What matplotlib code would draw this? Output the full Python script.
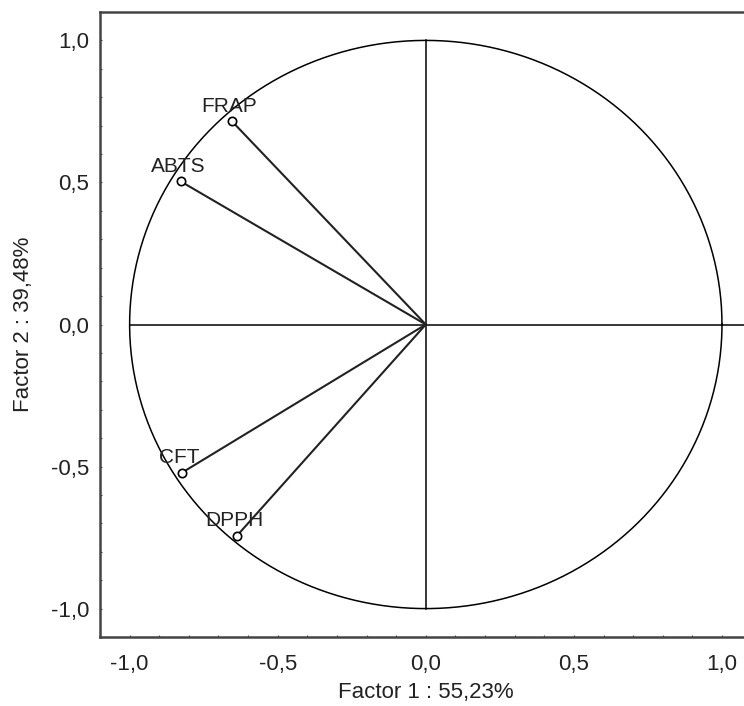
import numpy as np
import matplotlib
matplotlib.use('Agg')
import matplotlib.pyplot as plt
from matplotlib.ticker import MultipleLocator, FuncFormatter

# loadings on the first two factors
variables = ['FRAP', 'ABTS', 'CFT', 'DPPH']
factor1 = [-0.655, -0.828, -0.824, -0.638]
factor2 = [0.716, 0.504, -0.522, -0.744]

xlabel = 'Factor 1 : 55,23%'
ylabel = 'Factor 2 : 39,48%'

plt.rcParams['font.family'] = ['Liberation Sans', 'DejaVu Sans']

fig = plt.figure(figsize=(7.44, 7.06), dpi=100)
ax = fig.add_axes([100 / 744, 1 - 637 / 706, 651.6 / 744, 625 / 706])

# unit circle and the two axes through the origin
t = np.linspace(0, 2 * np.pi, 400)
ax.plot(np.cos(t), np.sin(t), color='black', lw=1.1)
ax.plot([-1, 1.1], [0, 0], color='black', lw=1.1)
ax.plot([0, 0], [-1, 1], color='black', lw=1.1)

for name, x, y in zip(variables, factor1, factor2):
    ax.plot([0, x], [0, y], color='#222222', lw=1.5)
    ax.plot(x, y, 'o', ms=6, mfc='white', mec='black', mew=1.2)
    ax.annotate(name, (x, y), xytext=(-2, 4), textcoords='offset points',
                ha='center', va='bottom', fontsize=15, color='#222222')

ax.set_xlim(-1.1, 1.1)
ax.set_ylim(-1.1, 1.1)

fmt = FuncFormatter(lambda v, p: ('%.1f' % v).replace('.', ','))
for a in (ax.xaxis, ax.yaxis):
    a.set_major_locator(MultipleLocator(0.5))
    a.set_minor_locator(MultipleLocator(0.1))
    a.set_major_formatter(fmt)

ax.tick_params(which='major', direction='in', length=1.5, width=0.8,
               labelsize=16, labelcolor='#222222', color='#444444')
ax.tick_params(which='minor', direction='in', length=1.5, width=0.8, color='#444444')
ax.tick_params(axis='x', pad=12)
ax.tick_params(axis='y', pad=8)

for s in ax.spines.values():
    s.set_color('#444444')
    s.set_linewidth(1.8)

ax.set_xlabel(xlabel, fontsize=16, color='#222222', labelpad=5)
ax.set_ylabel(ylabel, fontsize=16, color='#222222', labelpad=12)

fig.savefig('out.png', dpi=100)
